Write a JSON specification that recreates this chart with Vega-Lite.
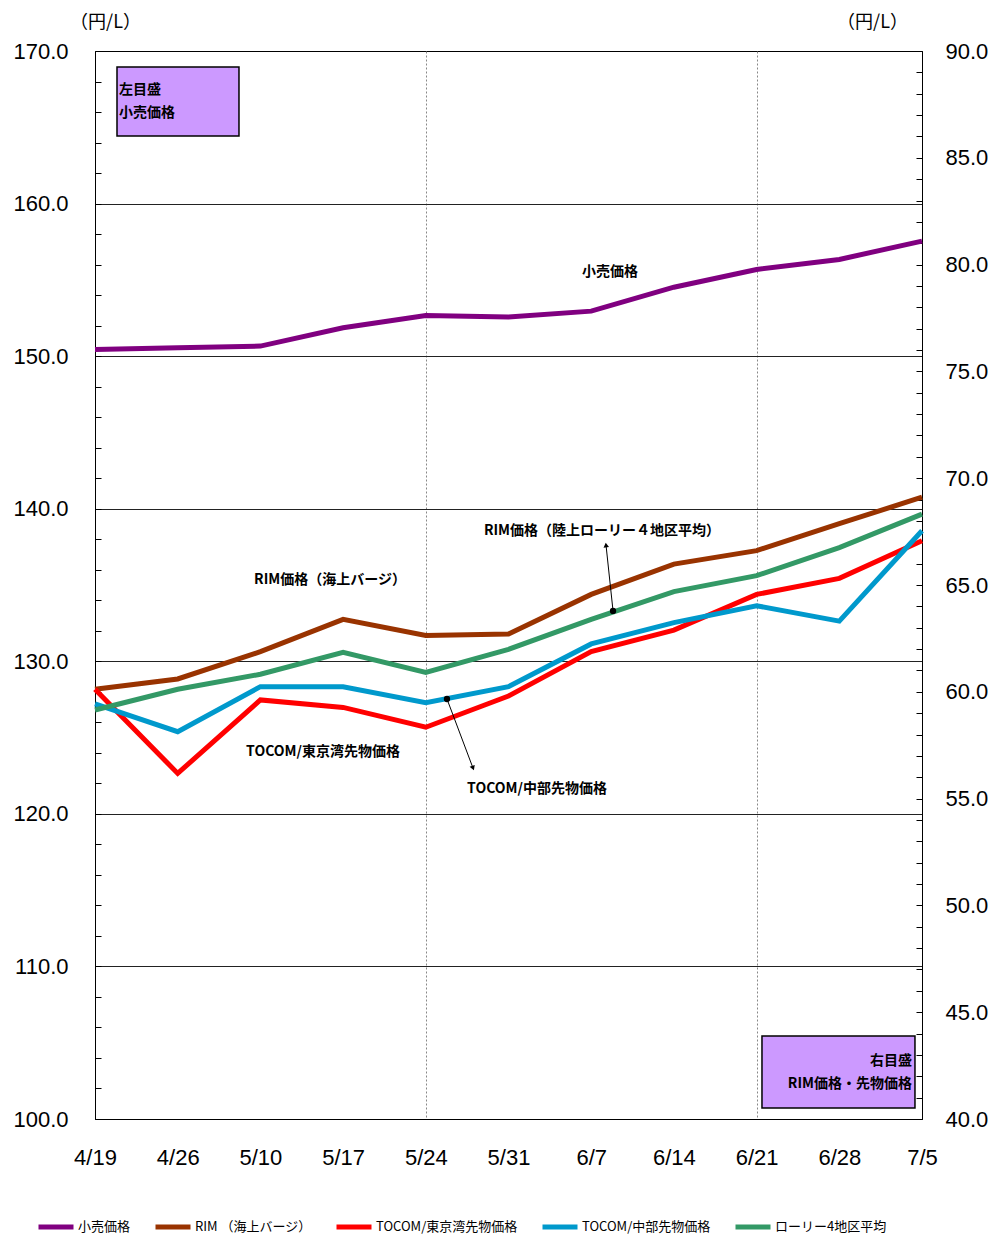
{
  "$schema": "https://vega.github.io/schema/vega-lite/v6.json",
  "width": 827,
  "height": 1068,
  "autosize": {"type": "none"},
  "padding": {"left": 95, "top": 51, "right": 68, "bottom": 115},
  "background": "white",
  "config": {"view": {"stroke": "black", "strokeWidth": 1}, "font": "Liberation Sans"},
  "datasets": {
    "prices": [
      {"date": "4/19", "series": "小売価格", "price": 150.44},
      {"date": "4/26", "series": "小売価格", "price": 150.55},
      {"date": "5/10", "series": "小売価格", "price": 150.66},
      {"date": "5/17", "series": "小売価格", "price": 151.86},
      {"date": "5/24", "series": "小売価格", "price": 152.67},
      {"date": "5/31", "series": "小売価格", "price": 152.56},
      {"date": "6/7", "series": "小売価格", "price": 152.95},
      {"date": "6/14", "series": "小売価格", "price": 154.52},
      {"date": "6/21", "series": "小売価格", "price": 155.68},
      {"date": "6/28", "series": "小売価格", "price": 156.34},
      {"date": "7/5", "series": "小売価格", "price": 157.54},
      {"date": "4/19", "series": "RIM （海上バージ）", "price": 60.12},
      {"date": "4/26", "series": "RIM （海上バージ）", "price": 60.6},
      {"date": "5/10", "series": "RIM （海上バージ）", "price": 61.88},
      {"date": "5/17", "series": "RIM （海上バージ）", "price": 63.39},
      {"date": "5/24", "series": "RIM （海上バージ）", "price": 62.64},
      {"date": "5/31", "series": "RIM （海上バージ）", "price": 62.71},
      {"date": "6/7", "series": "RIM （海上バージ）", "price": 64.56},
      {"date": "6/14", "series": "RIM （海上バージ）", "price": 65.98},
      {"date": "6/21", "series": "RIM （海上バージ）", "price": 66.61},
      {"date": "6/28", "series": "RIM （海上バージ）", "price": 67.87},
      {"date": "7/5", "series": "RIM （海上バージ）", "price": 69.11},
      {"date": "4/19", "series": "TOCOM/東京湾先物価格", "price": 60.12},
      {"date": "4/26", "series": "TOCOM/東京湾先物価格", "price": 56.18},
      {"date": "5/10", "series": "TOCOM/東京湾先物価格", "price": 59.62},
      {"date": "5/17", "series": "TOCOM/東京湾先物価格", "price": 59.27},
      {"date": "5/24", "series": "TOCOM/東京湾先物価格", "price": 58.34},
      {"date": "5/31", "series": "TOCOM/東京湾先物価格", "price": 59.8},
      {"date": "6/7", "series": "TOCOM/東京湾先物価格", "price": 61.88},
      {"date": "6/14", "series": "TOCOM/東京湾先物価格", "price": 62.89},
      {"date": "6/21", "series": "TOCOM/東京湾先物価格", "price": 64.56},
      {"date": "6/28", "series": "TOCOM/東京湾先物価格", "price": 65.31},
      {"date": "7/5", "series": "TOCOM/東京湾先物価格", "price": 67.07},
      {"date": "4/19", "series": "TOCOM/中部先物価格", "price": 59.43},
      {"date": "4/26", "series": "TOCOM/中部先物価格", "price": 58.13},
      {"date": "5/10", "series": "TOCOM/中部先物価格", "price": 60.24},
      {"date": "5/17", "series": "TOCOM/中部先物価格", "price": 60.24},
      {"date": "5/24", "series": "TOCOM/中部先物価格", "price": 59.49},
      {"date": "5/31", "series": "TOCOM/中部先物価格", "price": 60.24},
      {"date": "6/7", "series": "TOCOM/中部先物価格", "price": 62.24},
      {"date": "6/14", "series": "TOCOM/中部先物価格", "price": 63.24},
      {"date": "6/21", "series": "TOCOM/中部先物価格", "price": 64.03},
      {"date": "6/28", "series": "TOCOM/中部先物価格", "price": 63.31},
      {"date": "7/5", "series": "TOCOM/中部先物価格", "price": 67.54},
      {"date": "4/19", "series": "ローリー4地区平均", "price": 59.15},
      {"date": "4/26", "series": "ローリー4地区平均", "price": 60.12},
      {"date": "5/10", "series": "ローリー4地区平均", "price": 60.82},
      {"date": "5/17", "series": "ローリー4地区平均", "price": 61.85},
      {"date": "5/24", "series": "ローリー4地区平均", "price": 60.91},
      {"date": "5/31", "series": "ローリー4地区平均", "price": 61.99},
      {"date": "6/7", "series": "ローリー4地区平均", "price": 63.39},
      {"date": "6/14", "series": "ローリー4地区平均", "price": 64.69},
      {"date": "6/21", "series": "ローリー4地区平均", "price": 65.44},
      {"date": "6/28", "series": "ローリー4地区平均", "price": 66.75},
      {"date": "7/5", "series": "ローリー4地区平均", "price": 68.32}
    ],
    "notes": [
      {"kind": "box", "x": 0.266, "x2": 1.741, "y": 168.95, "y2": 164.43},
      {"kind": "box", "x": 8.065, "x2": 9.915, "y": 105.44, "y2": 100.72},
      {"kind": "boxtextL", "text": "左目盛", "x": 0.29, "y": 167.44},
      {"kind": "boxtextL", "text": "小売価格", "x": 0.29, "y": 165.94},
      {"kind": "boxtextR", "text": "右目盛", "x": 9.879, "y": 103.8},
      {"kind": "boxtextR", "text": "RIM価格・先物価格", "x": 9.879, "y": 102.29},
      {"kind": "label", "text": "小売価格", "x": 6.227, "y": 155.51},
      {"kind": "label", "text": "RIM価格（海上バージ）", "x": 2.842, "y": 135.33},
      {"kind": "label", "text": "RIM価格（陸上ローリー４地区平均）", "x": 6.13, "y": 138.54},
      {"kind": "label", "text": "TOCOM/東京湾先物価格", "x": 2.757, "y": 124.05},
      {"kind": "label", "text": "TOCOM/中部先物価格", "x": 5.345, "y": 121.63},
      {"kind": "arrowUp", "x": 6.264, "y": 133.3, "x2": 6.179, "y2": 137.62},
      {"kind": "arrowDown", "x": 4.256, "y": 127.53, "x2": 4.571, "y2": 123.0}
    ]
  },
  "layer": [
    {
      "data": {"name": "prices"},
      "transform": [{"filter": "datum.series === '小売価格'"}],
      "mark": {"type": "line", "strokeWidth": 5},
      "encoding": {
        "x": {
          "field": "date", "type": "ordinal",
          "scale": {"type": "point", "padding": 0, "domain": ["4/19","4/26","5/10","5/17","5/24","5/31","6/7","6/14","6/21","6/28","7/5"]},
          "axis": {
            "orient": "bottom", "title": null, "labelAngle": 0, "labelFont": "Liberation Sans", "labelFontSize": 22, "labelColor": "black",
            "labelPadding": 28, "ticks": false, "domainColor": "black",
            "grid": true, "gridColor": "#888888", "gridDash": [2, 2],
            "gridOpacity": {"condition": {"test": "datum.value === '5/24' || datum.value === '6/21'", "value": 1}, "value": 0}
          }
        },
        "y": {
          "field": "price", "type": "quantitative",
          "scale": {"domain": [100, 170], "nice": false, "zero": false},
          "axis": {
            "orient": "left",
            "values": [100,102,104,106,108,110,112,114,116,118,120,122,124,126,128,130,132,134,136,138,140,142,144,146,148,150,152,154,156,158,160,162,164,166,168,170],
            "labelExpr": "datum.value % 10 === 0 ? format(datum.value, '.1f') : ''",
            "labelFont": "Liberation Sans", "labelFontSize": 22, "labelColor": "black", "labelOverlap": false,
            "tickSize": -6, "tickColor": "black", "labelPadding": 33, "domainColor": "black",
            "grid": true, "gridColor": "#222222",
            "gridOpacity": {"condition": {"test": "datum.value % 10 === 0 && datum.value > 100 && datum.value < 170", "value": 1}, "value": 0},
            "title": "（円/L）", "titleAngle": 0, "titleX": 10, "titleY": -29, "titleAlign": "center", "titleBaseline": "middle",
            "titleFont": "Noto Sans CJK JP", "titleFontSize": 18, "titleFontWeight": "normal", "titleColor": "black"
          }
        },
        "color": {
          "field": "series", "type": "nominal",
          "scale": {
            "domain": ["小売価格", "RIM （海上バージ）", "TOCOM/東京湾先物価格", "TOCOM/中部先物価格", "ローリー4地区平均"],
            "range": ["#800080", "#993300", "#ff0000", "#0099cc", "#339966"]
          },
          "legend": {
            "orient": "none", "legendX": -59, "legendY": 1156, "direction": "horizontal", "title": null,
            "symbolType": "stroke", "symbolStrokeWidth": 5, "symbolSize": 1225,
            "labelFont": "Noto Sans CJK JP", "labelFontSize": 13, "labelColor": "black",
            "columnPadding": 14, "labelOffset": 2, "labelLimit": 300
          }
        }
      }
    },
    {
      "data": {"name": "prices"},
      "transform": [{"filter": "datum.series !== '小売価格'"}],
      "mark": {"type": "line", "strokeWidth": 5},
      "encoding": {
        "x": {
          "field": "date", "type": "ordinal",
          "scale": {"type": "point", "padding": 0, "domain": ["4/19","4/26","5/10","5/17","5/24","5/31","6/7","6/14","6/21","6/28","7/5"]},
          "axis": null
        },
        "y": {
          "field": "price", "type": "quantitative",
          "scale": {"domain": [40, 90], "nice": false, "zero": false},
          "axis": {
            "orient": "right",
            "values": [40,41,42,43,44,45,46,47,48,49,50,51,52,53,54,55,56,57,58,59,60,61,62,63,64,65,66,67,68,69,70,71,72,73,74,75,76,77,78,79,80,81,82,83,84,85,86,87,88,89,90],
            "labelExpr": "datum.value % 5 === 0 ? format(datum.value, '.1f') : ''",
            "labelFont": "Liberation Sans", "labelFontSize": 22, "labelColor": "black", "labelOverlap": false,
            "tickSize": -6, "tickColor": "black", "labelPadding": 29, "domainColor": "black",
            "grid": false,
            "title": "（円/L）", "titleAngle": 0, "titleX": -50, "titleY": -29, "titleAlign": "center", "titleBaseline": "middle",
            "titleFont": "Noto Sans CJK JP", "titleFontSize": 18, "titleFontWeight": "normal", "titleColor": "black"
          }
        },
        "color": {
          "field": "series", "type": "nominal",
          "scale": {
            "domain": ["小売価格", "RIM （海上バージ）", "TOCOM/東京湾先物価格", "TOCOM/中部先物価格", "ローリー4地区平均"],
            "range": ["#800080", "#993300", "#ff0000", "#0099cc", "#339966"]
          },
          "legend": {
            "orient": "none", "legendX": -59, "legendY": 1156, "direction": "horizontal", "title": null,
            "symbolType": "stroke", "symbolStrokeWidth": 5, "symbolSize": 1225,
            "labelFont": "Noto Sans CJK JP", "labelFontSize": 13, "labelColor": "black",
            "columnPadding": 14, "labelOffset": 2, "labelLimit": 300
          }
        }
      }
    },
    {
      "data": {"name": "notes"},
      "layer": [
        {
          "transform": [{"filter": "datum.kind === 'box'"}],
          "mark": {"type": "rect", "fill": "#cc99ff", "stroke": "black", "strokeWidth": 1.5},
          "encoding": {
            "x": {"field": "x", "type": "quantitative", "scale": {"domain": [0, 10], "nice": false, "zero": false}, "axis": null},
            "x2": {"field": "x2"},
            "y": {"field": "y", "type": "quantitative", "scale": {"domain": [100, 170], "nice": false, "zero": false}, "axis": null},
            "y2": {"field": "y2"}
          }
        },
        {
          "transform": [{"filter": "datum.kind === 'boxtextL'"}],
          "mark": {"type": "text", "align": "left", "baseline": "middle", "font": "Noto Sans CJK JP", "fontWeight": "bold", "fontSize": 14, "color": "black"},
          "encoding": {
            "x": {"field": "x", "type": "quantitative", "scale": {"domain": [0, 10], "nice": false, "zero": false}, "axis": null},
            "y": {"field": "y", "type": "quantitative", "scale": {"domain": [100, 170], "nice": false, "zero": false}, "axis": null},
            "text": {"field": "text"}
          }
        },
        {
          "transform": [{"filter": "datum.kind === 'boxtextR'"}],
          "mark": {"type": "text", "align": "right", "baseline": "middle", "font": "Noto Sans CJK JP", "fontWeight": "bold", "fontSize": 14, "color": "black"},
          "encoding": {
            "x": {"field": "x", "type": "quantitative", "scale": {"domain": [0, 10], "nice": false, "zero": false}, "axis": null},
            "y": {"field": "y", "type": "quantitative", "scale": {"domain": [100, 170], "nice": false, "zero": false}, "axis": null},
            "text": {"field": "text"}
          }
        },
        {
          "transform": [{"filter": "datum.kind === 'label'"}],
          "mark": {"type": "text", "align": "center", "baseline": "middle", "font": "Noto Sans CJK JP", "fontWeight": "bold", "fontSize": 14, "color": "black"},
          "encoding": {
            "x": {"field": "x", "type": "quantitative", "scale": {"domain": [0, 10], "nice": false, "zero": false}, "axis": null},
            "y": {"field": "y", "type": "quantitative", "scale": {"domain": [100, 170], "nice": false, "zero": false}, "axis": null},
            "text": {"field": "text"}
          }
        },
        {
          "transform": [{"filter": "datum.kind === 'arrowUp' || datum.kind === 'arrowDown'"}],
          "mark": {"type": "rule", "color": "black", "strokeWidth": 1},
          "encoding": {
            "x": {"field": "x", "type": "quantitative", "scale": {"domain": [0, 10], "nice": false, "zero": false}, "axis": null},
            "y": {"field": "y", "type": "quantitative", "scale": {"domain": [100, 170], "nice": false, "zero": false}, "axis": null},
            "x2": {"field": "x2"},
            "y2": {"field": "y2"}
          }
        },
        {
          "transform": [{"filter": "datum.kind === 'arrowUp' || datum.kind === 'arrowDown'"}],
          "mark": {"type": "point", "filled": true, "color": "black", "size": 40, "opacity": 1},
          "encoding": {
            "x": {"field": "x", "type": "quantitative", "scale": {"domain": [0, 10], "nice": false, "zero": false}, "axis": null},
            "y": {"field": "y", "type": "quantitative", "scale": {"domain": [100, 170], "nice": false, "zero": false}, "axis": null}
          }
        },
        {
          "transform": [{"filter": "datum.kind === 'arrowUp'"}],
          "mark": {"type": "point", "filled": true, "color": "black", "size": 30, "opacity": 1, "shape": "triangle-up", "angle": -6},
          "encoding": {
            "x": {"field": "x2", "type": "quantitative", "scale": {"domain": [0, 10], "nice": false, "zero": false}, "axis": null},
            "y": {"field": "y2", "type": "quantitative", "scale": {"domain": [100, 170], "nice": false, "zero": false}, "axis": null}
          }
        },
        {
          "transform": [{"filter": "datum.kind === 'arrowDown'"}],
          "mark": {"type": "point", "filled": true, "color": "black", "size": 30, "opacity": 1, "shape": "triangle-down", "angle": -21},
          "encoding": {
            "x": {"field": "x2", "type": "quantitative", "scale": {"domain": [0, 10], "nice": false, "zero": false}, "axis": null},
            "y": {"field": "y2", "type": "quantitative", "scale": {"domain": [100, 170], "nice": false, "zero": false}, "axis": null}
          }
        }
      ]
    }
  ],
  "resolve": {"scale": {"x": "independent", "y": "independent"}}
}
